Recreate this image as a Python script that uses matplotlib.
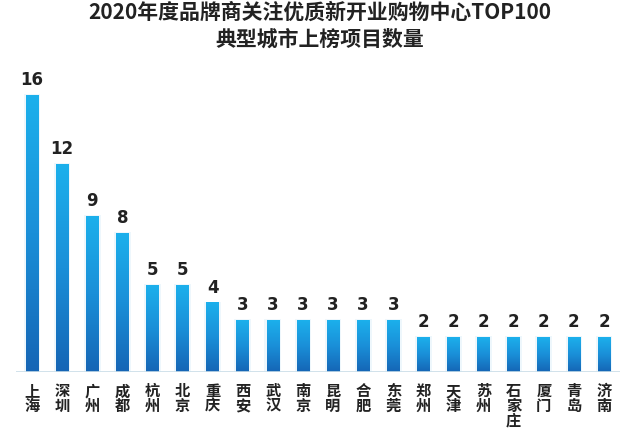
import numpy as np
import matplotlib.pyplot as plt
from matplotlib.colors import LinearSegmentedColormap

plt.rcParams['font.family'] = ['Noto Sans CJK SC', 'DejaVu Sans']

cities = ["上海", "深圳", "广州", "成都", "杭州", "北京", "重庆", "西安", "武汉", "南京",
          "昆明", "合肥", "东莞", "郑州", "天津", "苏州", "石家庄", "厦门", "青岛", "济南"]
counts = [16, 12, 9, 8, 5, 5, 4, 3, 3, 3, 3, 3, 3, 2, 2, 2, 2, 2, 2, 2]
title = "2020年度品牌商关注优质新开业购物中心TOP100\n典型城市上榜项目数量"

fig = plt.figure(figsize=(6.4, 4.34), dpi=100)
ax = fig.add_axes([16 / 640, 1 - 372 / 434, 604 / 640, 300 / 434])

# gradient: dark blue at the bottom, light cyan at the top
cmap = LinearSegmentedColormap.from_list("bar", ["#1565b5", "#1a8fd8", "#1cb0ec"])
grad = np.linspace(0, 1, 256).reshape(-1, 1)
width = 0.42

for i, (city, n) in enumerate(zip(cities, counts)):
    # faint glow behind the bar
    ax.bar(i, n + 0.06, width=width + 0.14, color="#e3f2fb", alpha=0.6, zorder=1)
    ax.imshow(grad, cmap=cmap, origin="lower", aspect="auto",
              extent=[i - width / 2, i + width / 2, 0, n], zorder=2)
    ax.text(i, n + 0.35, str(n), ha="center", va="bottom", fontsize=12,
            fontweight="bold", color="#222222", family=["DejaVu Sans"])
    ax.text(i, -0.65, "\n".join(city), ha="center", va="top", fontsize=11,
            fontweight="bold", color="#222222", linespacing=0.9)

ax.axhline(0, color="#c9dde8", lw=1.2, zorder=3)
ax.set_xlim(-0.53, len(cities) - 0.47)
ax.set_ylim(0, 300 / 277 * 16)
ax.axis("off")

fig.text(0.5, 0.995, title, ha="center", va="top", fontsize=15,
         fontweight="heavy", color="#222222", linespacing=1.3)

fig.savefig("out.png", dpi=100)
